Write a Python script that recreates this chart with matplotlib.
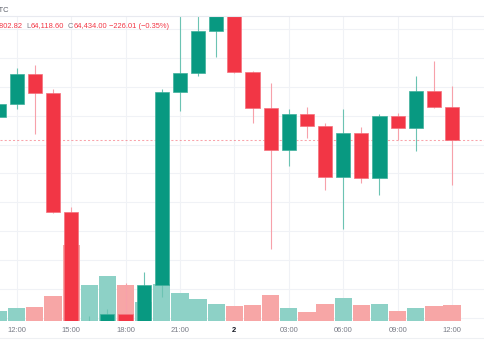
import numpy as np
import matplotlib
matplotlib.use("Agg")
import matplotlib.pyplot as plt
from matplotlib.lines import Line2D

# ---------------- data (hourly candles, BTC) ----------------
hours = ["11:00", "12:00", "13:00", "14:00", "15:00", "16:00", "17:00", "18:00",
         "19:00", "20:00", "21:00", "22:00", "23:00", "00:00", "01:00", "02:00",
         "03:00", "04:00", "05:00", "06:00", "07:00", "08:00", "09:00", "10:00",
         "11:00", "12:00"]
opens = [64590, 64680, 64888, 64756, 63933, 62900, 63080, 63227, 63120, 63428,
         64763, 64895, 65185, 65390, 64902, 64650, 64362, 64611, 64530, 64175,
         64480, 64168, 64597, 64514, 64770, 64660.01]
highs = [64690, 64929, 64950, 64784, 63967, 63213, 63262, 63442, 63518, 64784,
         65340, 65420, 65460, 65430, 64910, 64826, 64646, 64660, 64549, 64646,
         64521, 64611, 64618, 64874, 64978, 64802.82]
lows = [64575, 64646, 64473, 63925, 62850, 62860, 63010, 63060, 63090, 63345,
        64632, 64874, 65006, 64895, 64549, 63677, 64251, 64445, 64085, 63815,
        64134, 64051, 64431, 64355, 64653, 64118.60]
closes = [64680, 64888, 64756, 63933, 62900, 63080, 63227, 63120, 63428, 64763,
          64895, 65185, 65390, 64902, 64650, 64362, 64611, 64530, 64175, 64480,
          64168, 64597, 64514, 64770, 64660.01, 64434.00]
volumes = [300, 400, 420, 750, 2280, 1080, 1350, 1080, 570, 1110,
           840, 660, 510, 450, 480, 780, 390, 270, 510, 690,
           480, 510, 300, 390, 450, 480]
tick_labels = ["12:00", "15:00", "18:00", "21:00", "2", "03:00", "06:00", "09:00", "12:00"]
tick_pos = [1, 4, 7, 10, 13, 16, 19, 22, 25]
price_grid = [63200, 63400, 63600, 63800, 64000, 64200, 64400, 64600, 64800, 65000, 65200]

# ---------------- style ----------------
GREEN = "#089981"
RED = "#F23645"
GREEN_WICK = "#6cc3b3"
RED_WICK = "#f7a1aa"
GREEN_EDGE = "#3fb09c"
RED_EDGE = "#f5707c"
GREEN_VOL = "#8dd1c6"
RED_VOL = "#f7a6a6"
TXT = "#787b86"
FONT = "Liberation Sans"

W, H = 485, 360
fig = plt.figure(figsize=(W / 100, H / 100), dpi=100)
fig.patch.set_facecolor("white")

top_px, bot_px = 16.5, 321
rect = [0, 1 - bot_px / H, 1, (bot_px - top_px) / H]
ax = fig.add_axes(rect)
x = np.arange(len(hours))
xlim = (0.079, 26.816)
ylim = (63178.6, 65285.8)
ax.set_xlim(xlim)
ax.set_ylim(ylim)
ax.set_yticks(price_grid)
ax.set_xticks(tick_pos, tick_labels)
ax.grid(True, color="#f0f2f6", lw=0.8)
ax.set_axisbelow(True)
ax.tick_params(axis="y", length=0, labelleft=False)
ax.tick_params(axis="x", length=0, pad=4.2, labelsize=5.5, labelcolor=TXT)
for lab in ax.get_xticklabels():
    lab.set_fontfamily(FONT)
bold = ax.get_xticklabels()[4]
bold.set_fontweight("bold")
bold.set_color("#131722")
for s in ax.spines.values():
    s.set_visible(False)

up = [c >= o for o, c in zip(opens, closes)]

# volume overlay
axv = ax.twinx()
axv.set_ylim(0, 9150)
axv.bar(x, volumes, width=0.95, color=[GREEN_VOL if u else RED_VOL for u in up],
        linewidth=0)
axv.axis("off")

# candles
axc = ax.twinx()
axc.set_ylim(ylim)
axc.set_xlim(xlim)
axc.axhline(closes[-1], color=RED, alpha=0.45, lw=0.75, dashes=(2, 2), zorder=1)
axc.vlines(x, lows, highs, colors=[GREEN_WICK if u else RED_WICK for u in up],
           lw=0.8, zorder=2)
body_lo = [min(o, c) for o, c in zip(opens, closes)]
body_h = [abs(c - o) for o, c in zip(opens, closes)]
axc.bar(x, body_h, bottom=body_lo, width=0.78,
        color=[GREEN if u else RED for u in up],
        edgecolor=[GREEN_EDGE if u else RED_EDGE for u in up],
        linewidth=0.5, zorder=3)
axc.axis("off")

# separators
fig.add_artist(Line2D([0, 1], [1 - 16 / H] * 2, color="#e8eaf0", lw=0.8))
fig.add_artist(Line2D([0, 1], [1 - 337.5 / H] * 2, color="#eef0f3", lw=0.8))

# header
renderer = fig.canvas.get_renderer()
FS = 5.4


def t(px, py, s, color, ha="left"):
    return fig.text(px / W, 1 - py / H, s, color=color, ha=ha, va="center",
                    fontsize=FS, family=FONT)


def chain(px, py, parts):
    cur = px
    for s, col in parts:
        txt = t(cur, py, s, col)
        bb = txt.get_window_extent(renderer)
        cur = bb.x1 + 0.6


t(8.5, 10, "UTC", "#5d606b", ha="right")
t(22.5, 26, "H64,802.82", RED, ha="right")
chain(26.3, 26, [("L", TXT), ("64,118.60", RED)])
chain(67.3, 26, [("C", TXT), ("64,434.00", RED)])
t(109.3, 26, "\u2212226.01 (\u22120.35%)", RED)

fig.savefig("out.png", dpi=100)
